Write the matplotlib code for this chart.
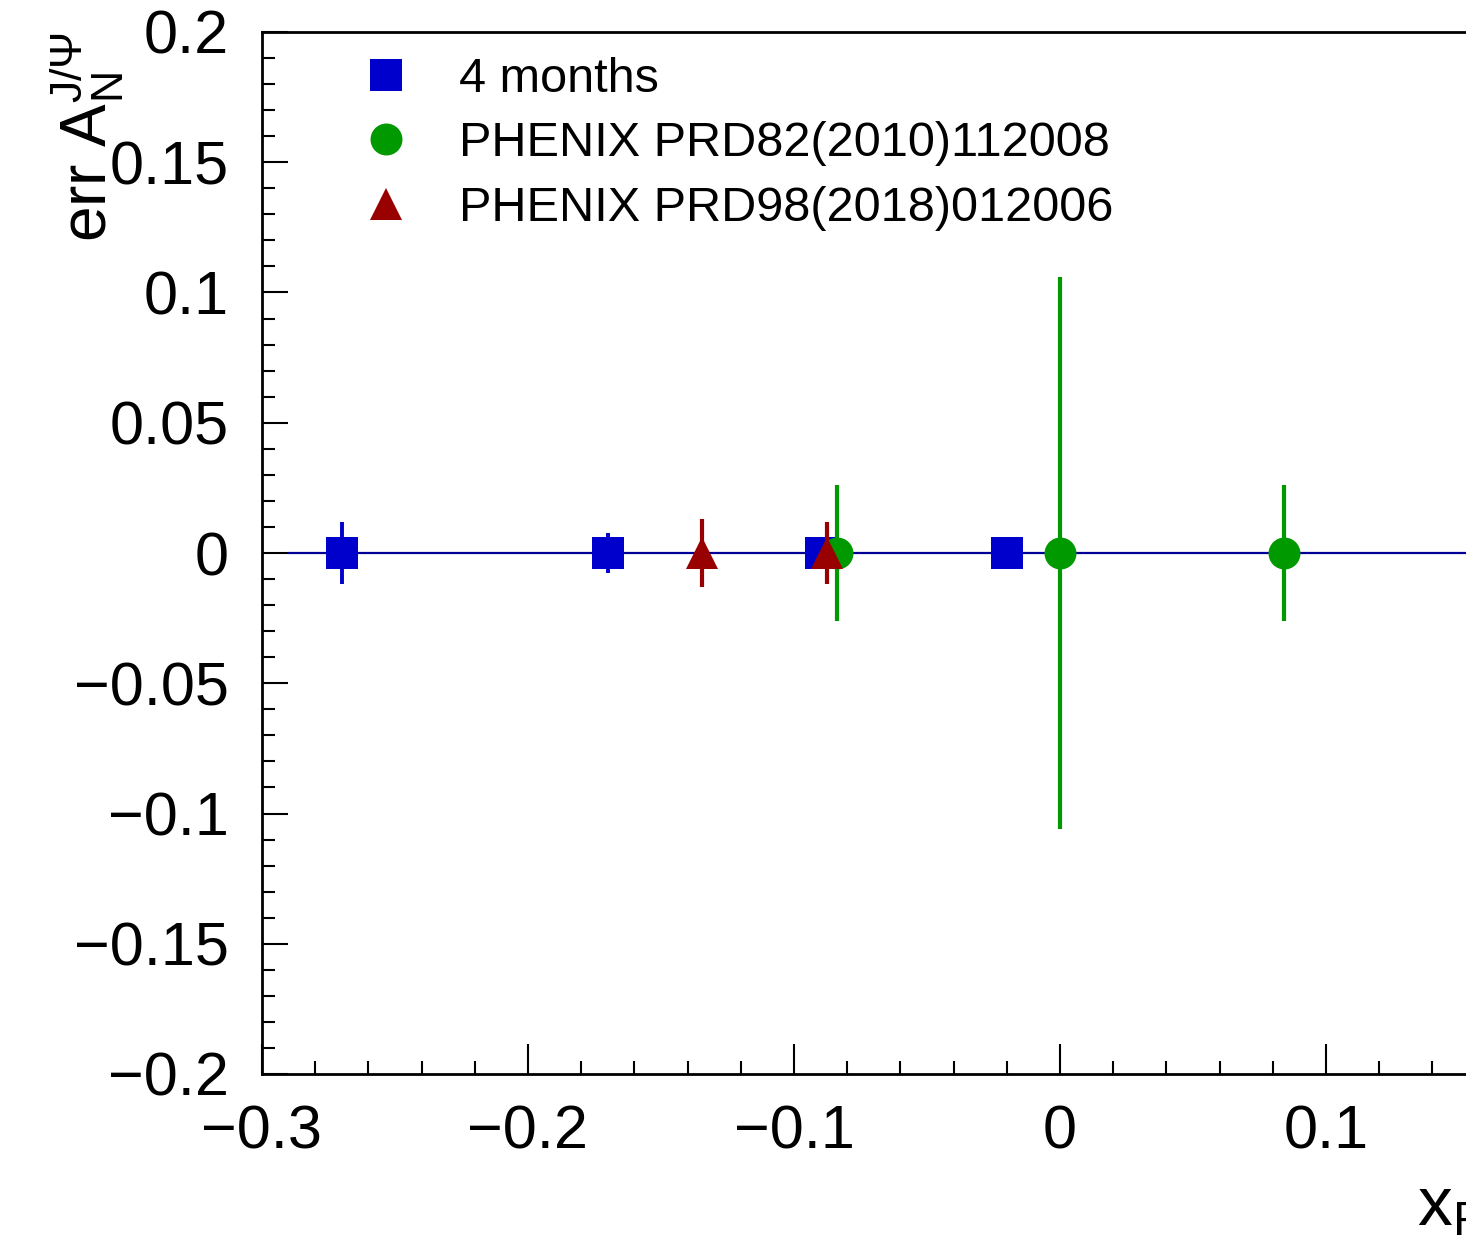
import numpy as np
import matplotlib
matplotlib.use("Agg")
import matplotlib.pyplot as plt
from matplotlib.ticker import MultipleLocator, FuncFormatter

plt.rcParams['font.family'] = ['Liberation Sans', 'DejaVu Sans']
plt.rcParams['mathtext.fontset'] = 'custom'
plt.rcParams['mathtext.rm'] = 'Liberation Sans'
plt.rcParams['mathtext.it'] = 'Liberation Sans'
plt.rcParams['mathtext.bf'] = 'Liberation Sans:bold'

# ---------------------------------------------------------
# data
# ---------------------------------------------------------
x_4m = [-0.27, -0.17, -0.09, -0.02]
y_4m = [0.0, 0.0, 0.0, 0.0]
e_4m = [0.012, 0.0077, 0.004, 0.003]

x_prd82 = [-0.0837, 0.0, 0.0843]
y_prd82 = [0.0, 0.0, 0.0]
e_prd82 = [0.0261, 0.106, 0.0261]

x_prd98 = [-0.1347, -0.0875]
y_prd98 = [0.0, 0.0]
e_prd98 = [0.013, 0.012]

zero_line_x = [-0.29, 0.3]
zero_line_y = [0.0, 0.0]

labels = ["4 months", "PHENIX PRD82(2010)112008", "PHENIX PRD98(2018)012006"]

c_blue = '#0000cc'
c_green = '#009900'
c_red = '#990000'
c_line = '#000099'

W, H = 1466, 1247
fig = plt.figure(figsize=(W / 100, H / 100), dpi=100)

x0, x1 = -0.3, 0.16
left_px, top_px, bot_px = 262, 32, 1074
px_per_x = 2660.0
ax = fig.add_axes([left_px / W, 1 - bot_px / H,
                   (x1 - x0) * px_per_x / W, (bot_px - top_px) / H])

ax.plot(zero_line_x, zero_line_y, color=c_line, lw=1.6, zorder=1)

ms = 23
ax.errorbar(x_4m, y_4m, yerr=e_4m, fmt='none', ecolor=c_blue, elinewidth=2.8,
            capsize=0, zorder=2)
ax.plot(x_4m, y_4m, 's', color=c_blue, ms=ms, mew=0, label=labels[0], zorder=3)

ax.errorbar(x_prd82, y_prd82, yerr=e_prd82, fmt='none', ecolor=c_green,
            elinewidth=3, capsize=0, zorder=4)
ax.plot(x_prd82, y_prd82, 'o', color=c_green, ms=ms, mew=0, label=labels[1],
        zorder=5)

ax.errorbar(x_prd98, y_prd98, yerr=e_prd98, fmt='none', ecolor=c_red,
            elinewidth=3, capsize=0, zorder=6)
ax.plot(x_prd98, y_prd98, '^', color=c_red, ms=ms, mew=0, label=labels[2],
        zorder=7)

ax.set_xlim(x0, x1)
ax.set_ylim(-0.2, 0.2)

ax.xaxis.set_major_locator(MultipleLocator(0.1))
ax.xaxis.set_minor_locator(MultipleLocator(0.02))
ax.yaxis.set_major_locator(MultipleLocator(0.05))
ax.yaxis.set_minor_locator(MultipleLocator(0.01))


def root_fmt(v, pos):
    if abs(v) < 1e-9:
        return "0"
    return ("%g" % round(v, 4)).replace('-', '\u2212')


ax.xaxis.set_major_formatter(FuncFormatter(root_fmt))
ax.yaxis.set_major_formatter(FuncFormatter(root_fmt))

ax.tick_params(axis='both', which='both', direction='in', width=1.5,
               top=False, right=False, labelsize=44)
ax.tick_params(axis='y', which='major', length=18.5, pad=24)
ax.tick_params(axis='y', which='minor', length=9.5)
ax.tick_params(axis='x', which='major', length=21.5, pad=22)
ax.tick_params(axis='x', which='minor', length=9.5)

for s in ax.spines.values():
    s.set_linewidth(2)

leg = ax.legend(loc='upper left', bbox_to_anchor=(362 / W, 1 - 57 / H),
                bbox_transform=fig.transFigure, frameon=False, fontsize=35,
                handlelength=1.0, handletextpad=1.0, labelspacing=0.4,
                borderpad=0, borderaxespad=0, numpoints=1)

fig.text(107 / W, 1 - 32 / H, r'err A$_{\mathrm{N}}^{\mathrm{J/\Psi}}$',
         rotation=90, rotation_mode='anchor', ha='right', va='baseline',
         fontsize=46)
fig.text(1417 / W, 1 - 1225 / H, r'x$_{\mathrm{F}}$', ha='left',
         va='baseline', fontsize=50)

fig.savefig("out.png", dpi=100)
